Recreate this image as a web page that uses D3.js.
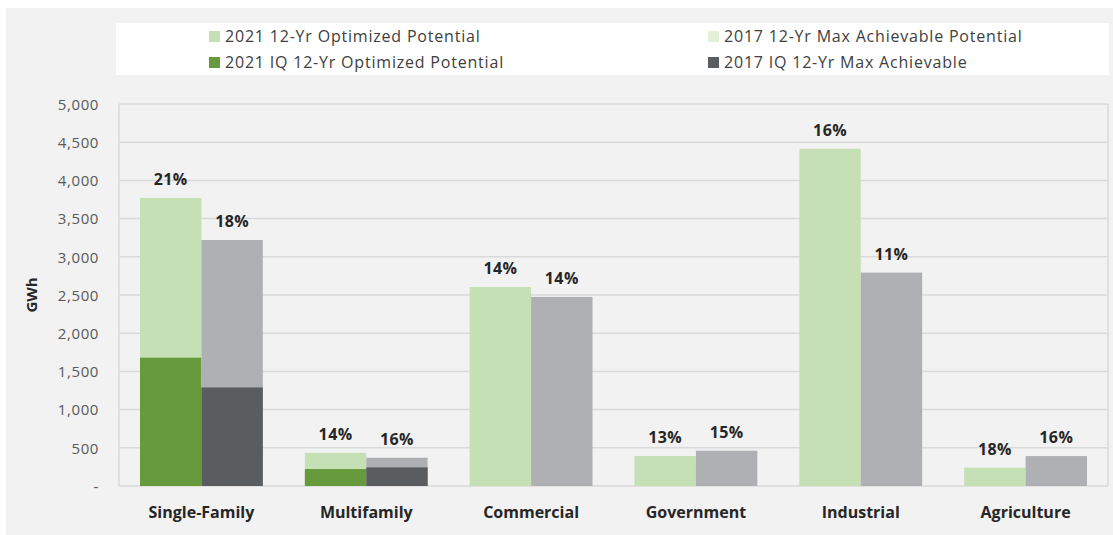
<!DOCTYPE html>
<html><head><meta charset="utf-8">
<script src="https://cdnjs.cloudflare.com/ajax/libs/d3/7.8.5/d3.min.js"></script>
<style>
body{margin:0;background:#fff;}
svg{display:block;font-family:"Open Sans",sans-serif;}
</style></head><body>
<svg id="chart" width="1113" height="535"></svg>
<script>
const categories = ["Single-Family","Multifamily","Commercial","Government","Industrial","Agriculture"];
const opt2021 = [3770, 435, 2605, 392, 4414, 240];
const optIQ2021 = [1680, 222, null, null, null, null];
const max2017 = [3220, 370, 2475, 462, 2793, 392];
const maxIQ2017 = [1290, 244, null, null, null, null];
const pct2021 = ["21%","14%","14%","13%","16%","18%"];
const pct2017 = ["18%","16%","14%","15%","11%","16%"];
const yTicks = [0,500,1000,1500,2000,2500,3000,3500,4000,4500,5000];
const legendItems = [
  {label:"2021 12-Yr Optimized Potential", color:"#c5e0b4"},
  {label:"2017 12-Yr Max Achievable Potential", color:"#e2efd9"},
  {label:"2021 IQ 12-Yr Optimized Potential", color:"#669a3d"},
  {label:"2017 IQ 12-Yr Max Achievable", color:"#595d60"}
];
const colors = {opt:"#c5e0b4", optIQ:"#669a3d", max:"#aeb0b3", maxIQ:"#595d60"};
const FONT = "'Open Sans',sans-serif";

const svg = d3.select("#chart");
svg.append("rect").attr("x",6).attr("y",8).attr("width",1107).attr("height",527).attr("fill","#f2f2f2");

const L = 119, R = 1108, T = 104, B = 486;
const x = d3.scaleBand().domain(categories).range([L,R]).paddingInner(0.255).paddingOuter(0.1275);
const y = d3.scaleLinear().domain([0,5000]).range([B,T]);

// gridlines
svg.append("g").selectAll("line").data(yTicks).join("line")
  .attr("x1",L).attr("x2",R).attr("y1",d=>y(d)).attr("y2",d=>y(d))
  .attr("stroke","#d9d9d9").attr("stroke-width",1.5);
svg.append("line").attr("x1",L).attr("x2",L).attr("y1",T).attr("y2",B).attr("stroke","#d9d9d9").attr("stroke-width",1.5);
svg.append("line").attr("x1",R).attr("x2",R).attr("y1",T).attr("y2",B).attr("stroke","#d9d9d9").attr("stroke-width",1.5);

// y axis
const yAxis = d3.axisLeft(y).tickValues(yTicks).tickSize(0).tickPadding(0)
  .tickFormat(d => d===0 ? "-" : d3.format(",")(d));
const ya = svg.append("g").attr("transform",`translate(99,0)`).call(yAxis);
ya.select(".domain").remove();
ya.selectAll("text").attr("font-size",15).attr("letter-spacing",0.6).attr("fill","#595959").attr("font-family",FONT).attr("dy","0.35em");

svg.append("text").attr("transform","translate(37,295) rotate(-90)").attr("text-anchor","middle")
  .attr("font-size",15).attr("font-weight","bold").attr("fill","#262626").text("GWh");

// x axis labels
const xAxis = d3.axisBottom(x).tickSize(0).tickPadding(0);
const xa = svg.append("g").attr("transform",`translate(0,${B+26})`).call(xAxis);
xa.select(".domain").remove();
xa.selectAll("text").attr("font-size",16).attr("font-weight","bold").attr("fill","#262626")
  .attr("font-family",FONT).attr("dy","0.35em");

const bw = x.bandwidth()/2;
const g = svg.append("g");
function bars(vals, off, col){
  g.selectAll(null).data(categories.map((c,i)=>({c, v:vals[i]})).filter(d=>d.v!=null)).join("rect")
    .attr("x",d=>x(d.c)+off).attr("width",bw)
    .attr("y",d=>y(d.v)).attr("height",d=>B-y(d.v)).attr("fill",col);
}
bars(opt2021, 0, colors.opt);
bars(optIQ2021, 0, colors.optIQ);
bars(max2017, bw, colors.max);
bars(maxIQ2017, bw, colors.maxIQ);

function labels(vals, txt, off){
  g.selectAll(null).data(categories.map((c,i)=>({c, v:vals[i], t:txt[i]}))).join("text")
    .attr("x",d=>x(d.c)+off+bw/2).attr("y",d=>y(d.v)-13)
    .attr("text-anchor","middle").attr("font-size",16).attr("letter-spacing",0.4).attr("font-weight","bold").attr("fill","#262626")
    .text(d=>d.t);
}
labels(opt2021, pct2021, 0);
labels(max2017, pct2017, bw);

// legend
svg.append("rect").attr("x",116).attr("y",23).attr("width",993).attr("height",52).attr("fill","#ffffff");
const lx = [209, 708], ly = [36, 62];
legendItems.forEach((d,i)=>{
  const cx = lx[i%2], cy = ly[Math.floor(i/2)];
  svg.append("rect").attr("x",cx).attr("y",cy-5).attr("width",11).attr("height",11).attr("fill",d.color);
  svg.append("text").attr("x",cx+16).attr("y",cy).attr("dy","0.35em").attr("font-size",16).attr("letter-spacing",0.8).attr("fill","#404040").text(d.label);
});
</script>
</body></html>
